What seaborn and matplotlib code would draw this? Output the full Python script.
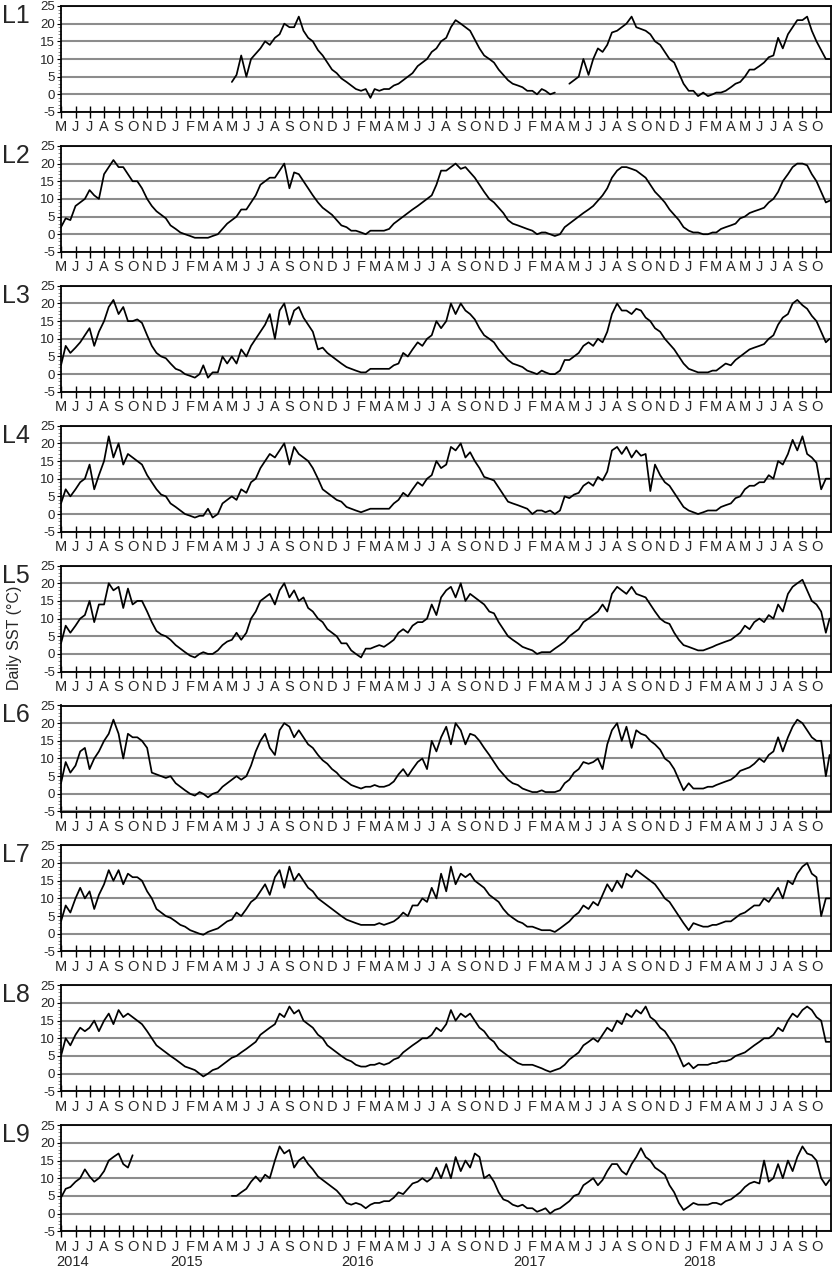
import numpy as np
import pandas as pd
import matplotlib.pyplot as plt
import matplotlib.dates as mdates
import matplotlib.transforms as mtransforms
from matplotlib.ticker import FixedLocator, FixedFormatter, MultipleLocator
import seaborn as sns

nan = np.nan

# Values, three per month (1st, 11th, 21st), May 2014 - Oct 2018,
# plus the last day of the record (29 Oct 2018).
l1 = [nan] * 24 + [nan] * 12 + [
    3.5, 5.5, 11, 5, 10, 11.5, 13, 15, 14, 16, 17, 20, 19, 19, 22, 18, 16, 15, 12.5, 11, 9, 7, 6, 4.5,
    3.5, 2.5, 1.5, 1, 1.5, -1, 1.5, 1, 1.5, 1.5, 2.5, 3, 4, 5, 6, 8, 9, 10, 12, 13, 15, 16, 19, 21,
    20, 19, 18, 15.5, 13, 11, 10, 9, 7, 5.5, 4, 3,
    2.5, 2, 1, 1, 0, 1.5, 1, 0, 0.5, nan, nan, 3, 4, 5, 10, 5.5, 10, 13, 12, 14, 17.5, 18, 19, 20,
    22, 19, 18.5, 18, 17, 15, 14, 12, 10, 9, 6, 3,
    1, 1, -0.5, 0.5, -0.5, 0, 0.5, 0.5, 1, 2, 3, 3.5, 5, 7, 7, 8, 9, 10.5, 11, 16, 13, 17, 19, 21,
    21, 22, 18, 15, 12.5, 10, 10]
l2 = [
    2, 4.5, 4, 8, 9, 10, 12.5, 11, 10, 17, 19, 21, 19, 19, 17, 15, 15, 13, 10, 8, 6.5, 5.5, 4.5, 2.5,
    1.5, 0.5, 0, -0.5, -1, -1, -1, -1, -0.5, 0, 1.5, 3, 4, 5, 7, 7, 9, 11, 14, 15, 16, 16, 18, 20,
    13, 17.5, 17, 15, 13, 11, 9, 7.5, 6.5, 5.5, 4, 2.5,
    2, 1, 1, 0.5, 0, 1, 1, 1, 1, 1.5, 3, 4, 5, 6, 7, 8, 9, 10, 11, 14, 18, 18, 19, 20,
    18.5, 19, 17.5, 16, 14, 12, 10, 9, 7.5, 6, 4, 3,
    2.5, 2, 1.5, 1, 0, 0.5, 0.5, 0, -0.5, 0, 2, 3, 4, 5, 6, 7, 8, 9.5, 11, 13, 16, 18, 19, 19,
    18.5, 18, 17, 16, 14, 12, 10.5, 9, 7, 5.5, 4, 2,
    1, 0.5, 0.5, 0, 0, 0.5, 0.5, 1.5, 2, 2.5, 3, 4.5, 5, 6, 6.5, 7, 7.5, 9, 10, 12, 15, 17, 19, 20,
    20, 19.5, 17, 15, 12, 9, 9.5]
l3 = [
    2.5, 8, 6, 7.5, 9, 11, 13, 8, 12, 15, 19, 21, 17, 19, 15, 15, 15.5, 14.5, 11, 8, 6, 5, 4.5, 3,
    1.5, 1, 0, -0.5, -1, 0, 2.5, -1, 0.5, 0.5, 5, 3, 5, 3, 7, 5, 8, 10, 12, 14, 17, 10, 18, 20,
    14, 18, 19, 16, 14, 12, 7, 7.5, 6, 5, 4, 3,
    2, 1.5, 1, 0.5, 0.5, 1.5, 1.5, 1.5, 1.5, 1.5, 2.5, 3, 6, 5, 7, 9, 8, 10, 11, 15, 13, 15, 20, 17,
    20, 18, 17, 15.5, 13, 11, 10, 9, 7, 5.5, 4, 3,
    2.5, 2, 1, 0.5, 0, 1, 0.5, 0, 0, 1, 4, 4, 5, 6, 8, 9, 8, 10, 9, 12, 17, 20, 18, 18,
    17, 18.5, 18, 16, 15, 13, 12, 10, 8.5, 7, 5, 3,
    1.5, 1, 0.5, 0.5, 0.5, 1, 1, 2, 3, 2.5, 4, 5, 6, 7, 7.5, 8, 8.5, 10, 11, 14, 16, 17, 20, 21,
    19.5, 18.5, 16.5, 15, 12, 9, 10]
l4 = [
    3, 7, 5, 7, 9, 10, 14, 7, 11, 15, 22, 16, 20, 14, 17, 16, 15, 14, 11, 9, 7, 5.5, 5, 3,
    2, 1, 0, -0.5, -1, -0.5, -0.5, 1.5, -1, 0, 3, 4, 5, 4, 7, 6, 9, 10, 13, 15, 17, 16, 18, 20,
    14, 19, 17, 16, 15, 13, 10, 7, 6, 5, 4, 3.5,
    2, 1.5, 1, 0.5, 1, 1.5, 1.5, 1.5, 1.5, 1.5, 3, 4, 6, 5, 7, 9, 8, 10, 11, 15, 13, 14, 19, 18,
    20, 16, 17.5, 15, 13, 10.5, 10, 9.5, 7.5, 5.5, 3.5, 3,
    2.5, 2, 1.5, 0, 1, 1, 0.5, 1, 0, 1, 5, 4.5, 5.5, 6, 8, 9, 8, 10.5, 9.5, 12, 18, 19, 17, 19,
    16, 18, 16.5, 17, 6.5, 14, 11, 9, 8, 6, 4, 2,
    1, 0.5, 0, 0.5, 1, 1, 1, 2, 2.5, 3, 4.5, 5, 7, 8, 8, 9, 9, 11, 10, 15, 14, 17, 21, 18,
    22, 17, 16, 14.5, 7, 10, 10]
l5 = [
    3, 8, 6, 8, 10, 11, 15, 9, 14, 14, 20, 18, 19, 13, 18.5, 14, 15, 15, 12, 9, 6.5, 5.5, 5, 4,
    2.5, 1.5, 0.5, -0.5, -1, 0, 0.5, 0, 0, 1, 2.5, 3.5, 4, 6, 4, 6, 10, 12, 15, 16, 17, 14, 18, 20,
    16, 18, 15, 16, 13, 12, 10, 9, 7, 6, 5, 3,
    3, 1, 0, -1, 1.5, 1.5, 2, 2.5, 2, 3, 4, 6, 7, 6, 8, 9, 9, 10, 14, 11, 16, 18, 19, 16,
    20, 15, 17, 16, 15, 14, 12, 11.5, 9, 7, 5, 4,
    3, 2, 1.5, 1, 0, 0.5, 0.5, 0.5, 1.5, 2.5, 3.5, 5, 6, 7, 9, 10, 11, 12, 14, 12, 17, 19, 18, 17,
    19, 17, 16.5, 16, 14, 12, 10, 9, 8.5, 6, 4, 2.5,
    2, 1.5, 1, 1, 1.5, 2, 2.5, 3, 3.5, 4, 5, 6, 8, 7, 9, 10, 9, 11, 10, 14, 12, 17, 19, 20,
    21, 18, 15, 14, 12, 6, 10]
l6 = [
    3, 9, 6, 8, 12, 13, 7, 10, 12, 15, 17, 21, 17, 10, 17, 16, 16, 15, 13, 6, 5.5, 5, 4.5, 5,
    3, 2, 1, 0, -0.5, 0.5, 0, -1, 0, 0.5, 2, 3, 4, 5, 4, 5, 8, 12, 15, 17, 13, 11, 18, 20,
    19, 16, 18, 16, 14, 13, 11, 9.5, 8.5, 7, 6, 4.5,
    3.5, 2.5, 2, 1.5, 2, 2, 2.5, 2, 2, 2.5, 3.5, 5.5, 7, 5, 7, 9, 10, 7, 15, 12, 16, 19, 14, 20,
    18, 14, 17, 16.5, 15, 13, 11, 9, 7, 5.5, 4, 3,
    2.5, 1.5, 1, 0.5, 0.5, 1, 0.5, 0.5, 0.5, 1, 3, 4, 6, 7, 9, 8.5, 9, 10, 7, 14, 18, 20, 15, 19,
    13, 18, 17, 16.5, 15, 14, 12.5, 10, 9, 7, 4, 1,
    3, 1.5, 1.5, 1.5, 2, 2, 2.5, 3, 3.5, 4, 5, 6.5, 7, 7.5, 8.5, 10, 9, 11, 12, 16, 12, 16, 19, 21,
    20, 18, 16, 15, 15, 5, 11]
l7 = [
    3.5, 8, 6, 10, 13, 10, 12, 7, 11, 14, 18, 15, 18, 14, 17, 16, 16, 15, 12, 10, 7, 6, 5, 4.5,
    3.5, 2.5, 2, 1, 0.5, 0, -0.3, 0.5, 1, 1.5, 2.5, 3.5, 4, 6, 5, 7, 9, 10, 12, 14, 11, 16, 18, 13,
    19, 15, 17, 15, 13, 12, 10, 9, 8, 7, 6, 5,
    4, 3.5, 3, 2.5, 2.5, 2.5, 2.5, 3, 2.5, 3, 3.5, 4.5, 6, 5, 8, 8, 10, 9, 13, 10, 17, 12, 19, 14,
    17, 16, 17, 15, 14, 13, 11, 10, 9, 7, 5.5, 4.5,
    3.5, 3, 2, 2, 1.5, 1, 1, 1, 0.5, 1.5, 2.5, 3.5, 5, 6, 8, 7, 9, 8, 11, 14, 12, 15, 13, 17,
    16, 18, 17, 16, 15, 14, 12, 10, 9, 7, 5, 3,
    1, 3, 2.5, 2, 2, 2.5, 2.5, 3, 3.5, 3.5, 4.5, 5.5, 6, 7, 8, 8, 10, 9, 11, 13, 10, 15, 14, 17,
    19, 20, 17, 16, 5, 10, 10]
l8 = [
    5, 10, 8, 11, 13, 12, 13, 15, 12, 15, 17, 14, 18, 16, 17, 16, 15, 14, 12, 10, 8, 7, 6, 5,
    4, 3, 2, 1.5, 1, 0, -0.8, 0, 1, 1.5, 2.5, 3.5, 4.5, 5, 6, 7, 8, 9, 11, 12, 13, 14, 17, 16,
    19, 17, 18, 15, 14, 13, 11, 10, 8, 7, 6, 5,
    4, 3.5, 2.5, 2, 2, 2.5, 2.5, 3, 2.5, 3, 4, 4.5, 6, 7, 8, 9, 10, 10, 11, 13, 12, 14, 18, 15,
    17, 16, 17, 15, 13, 12, 10, 9, 7, 6, 5, 4,
    3, 2.5, 2.5, 2.5, 2, 1.5, 1, 0.5, 1, 1.5, 2.5, 4, 5, 6, 8, 9, 10, 9, 11, 13, 12, 15, 14, 17,
    16, 18, 17, 19, 16, 15, 13, 12, 10, 8, 5, 2,
    3, 1.5, 2.5, 2.5, 2.5, 3, 3, 3.5, 3.5, 4, 5, 5.5, 6, 7, 8, 9, 10, 10, 11, 13, 12, 15, 17, 16,
    18, 19, 18, 16, 15, 9, 9]
l9 = [
    4.5, 7, 7.5, 9, 10, 12.5, 10.5, 9, 10, 12, 15, 16, 17, 14, 13, 16.5, nan, nan, nan, nan, nan, nan, nan, nan,
    nan, nan, nan, nan, nan, nan, nan, nan, nan, nan, nan, nan, 5, 5, 6, 7, 9, 10.5, 9, 11, 10, 15, 19, 17,
    18, 13, 15, 16, 14, 12.5, 10.5, 9.5, 8.5, 7.5, 6.5, 5,
    3, 2.5, 3, 2.5, 1.5, 2.5, 3, 3, 3.5, 3.5, 4.5, 6, 5.5, 7, 8.5, 9, 10, 9, 10, 13, 10, 14, 10, 16,
    12, 15, 13, 17, 16, 10, 11, 9, 6, 4, 3.5, 2.5,
    2, 2.5, 1.5, 1.5, 0.5, 1, 1.5, 0, 1, 1.5, 2.5, 3.5, 5, 5.5, 8, 9, 10, 8, 9.5, 12, 14, 14, 12, 11,
    14, 16, 18.5, 16, 15, 13, 12, 11, 8, 6, 3, 1,
    2, 3, 2.5, 2.5, 2.5, 3, 3, 2.5, 3.5, 4, 5, 6, 7.5, 8.5, 9, 8.5, 15, 9, 10, 14, 10, 15, 12, 16,
    19, 17, 16.5, 15, 10, 8, 9.5]

stations = ["L1", "L2", "L3", "L4", "L5", "L6", "L7", "L8", "L9"]
series = [l1, l2, l3, l4, l5, l6, l7, l8, l9]
month_letters = ["J", "F", "M", "A", "M", "J", "J", "A", "S", "O", "N", "D"]
years = ["2014", "2015", "2016", "2017", "2018"]
year_starts = ["2014-05-01", "2015-01-01", "2016-01-01", "2017-01-01", "2018-01-01"]

months = pd.date_range("2014-05-01", "2018-10-01", freq="MS")
dates = [m + pd.Timedelta(days=d) for m in months for d in (0, 10, 20)]
dates.append(pd.Timestamp("2018-10-29"))

sns.set_theme(style="white")
plt.rcParams["font.family"] = ["Liberation Sans", "DejaVu Sans"]
plt.rcParams["axes.unicode_minus"] = False

W, H = 834, 1276
fig = plt.figure(figsize=(W / 100, H / 100), dpi=100)

for i, (name, vals) in enumerate(zip(stations, series)):
    assert len(vals) == len(dates), (name, len(vals))
    top = 6 + i * 139.9
    ax = fig.add_axes([61 / W, 1 - (top + 106) / H, 770 / W, 106 / H])

    df = pd.DataFrame({"date": dates, "sst": vals})
    df["seg"] = df["sst"].isna().cumsum()
    df = df.dropna()
    sns.lineplot(data=df, x="date", y="sst", units="seg", estimator=None,
                 color="black", lw=1.25, ax=ax, legend=False)

    ax.set_xlim(pd.Timestamp("2014-05-01"), pd.Timestamp("2018-11-01"))
    ax.set_ylim(-5, 25)
    ax.set_xlabel("")
    ax.set_ylabel("")

    ax.xaxis.set_major_locator(FixedLocator(mdates.date2num(months)))
    ax.xaxis.set_major_formatter(FixedFormatter([month_letters[m.month - 1] for m in months]))
    ax.set_yticks(range(-5, 26, 5))
    ax.yaxis.set_minor_locator(MultipleLocator(1))

    ax.tick_params(axis="x", direction="inout", length=8, width=1, color="black",
                   labelsize=10.5, pad=2, bottom=True)
    ax.tick_params(axis="y", which="major", direction="out", length=3, width=0.8,
                   color="black", labelsize=9.5, pad=1.5, left=True)
    ax.tick_params(axis="y", which="minor", direction="out", length=2, width=0.6,
                   color="#777777", left=True)

    ax.yaxis.grid(True, color="#8c8c8c", lw=1.5)
    ax.xaxis.grid(False)
    ax.set_axisbelow(True)
    for sp in ax.spines.values():
        sp.set_color("black")
        sp.set_linewidth(1.3)

    fig.text(2 / W, 1 - (top - 2) / H, name, fontsize=18, va="top", ha="left")

    if i == len(stations) - 1:
        trans = mtransforms.blended_transform_factory(ax.transData, fig.transFigure)
        trans = mtransforms.offset_copy(trans, fig=fig, x=-5, y=0, units="dots")
        for yr, start in zip(years, year_starts):
            ax.text(mdates.date2num(pd.Timestamp(start)), 1 - 1262 / H, yr,
                    transform=trans, fontsize=10.5, ha="left", va="center")

fig.text(15 / W, 1 - 638 / H, "Daily SST (°C)", rotation=90, fontsize=11.5,
         ha="center", va="center")

fig.savefig("out.png", dpi=100)
